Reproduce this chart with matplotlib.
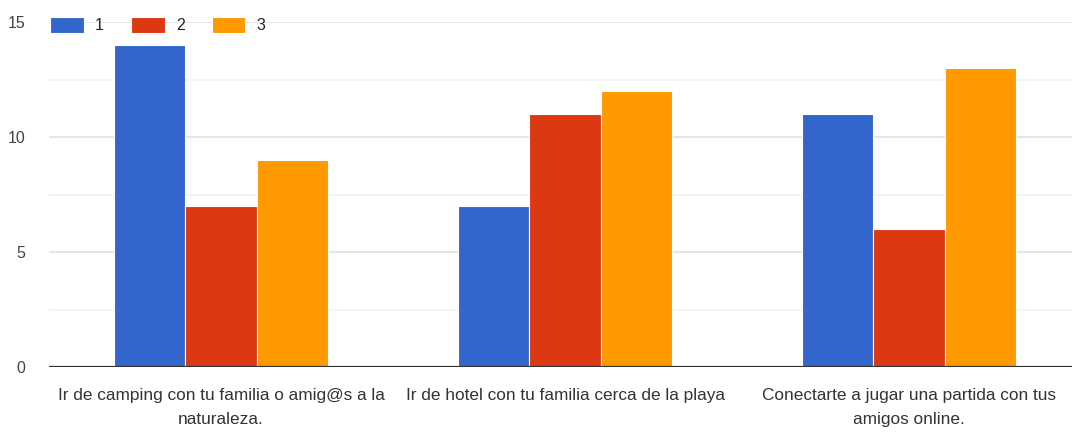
import matplotlib
import matplotlib.pyplot as plt
import numpy as np

matplotlib.use("Agg")

plt.rcParams["font.family"] = ["Liberation Sans Narrow", "Liberation Sans", "DejaVu Sans"]

categories = [
    "Ir de camping con tu familia o amig@s a la\nnaturaleza.",
    "Ir de hotel con tu familia cerca de la playa",
    "Conectarte a jugar una partida con tus\namigos online.",
]
series_names = ["1", "2", "3"]
series_values = [
    [14, 7, 11],
    [7, 11, 6],
    [9, 12, 13],
]
colors = ["#3366cc", "#dc3912", "#ff9900"]

fig = plt.figure(figsize=(10.72, 4.37), dpi=100)
ax = fig.add_axes([49 / 1072, 1 - 367 / 437, 1032 / 1072, (367 - 22) / 437])

x = np.arange(len(categories))
width = 0.207
handles = []
for i, (name, vals) in enumerate(zip(series_names, series_values)):
    b = ax.bar(x + (i - 1) * width, vals, width, color=colors[i],
               edgecolor="white", linewidth=0.8, label=name, zorder=3)
    handles.append(b)

ax.set_xlim(-0.5, 2.5)
ax.set_ylim(0, 15)
ax.set_yticks([0, 5, 10, 15])
ax.set_yticks([2.5, 7.5, 12.5], minor=True)
ax.grid(axis="y", which="major", color="#e2e2e2", linewidth=1.2, zorder=0)
ax.grid(axis="y", which="minor", color="#f1f1f1", linewidth=1.2, zorder=0)
ax.axhline(0, color="#333333", linewidth=1.6, zorder=4)

for s in ax.spines.values():
    s.set_visible(False)
ax.tick_params(axis="both", which="both", length=0)
ax.tick_params(axis="y", labelsize=11.5, labelcolor="#444444", pad=17)
ax.set_xticks(x)
ax.set_xticklabels(categories, fontsize=12.4, color="#333333", linespacing=1.75)
ax.tick_params(axis="x", pad=15)

fig.legend(handles=handles, labels=series_names, loc="center left",
           bbox_to_anchor=(36 / 1072, 1 - 25 / 437), ncol=3, frameon=False,
           fontsize=11.5, handlelength=2.1, handleheight=1.15,
           handletextpad=0.7, columnspacing=1.7, labelcolor="#222222")

fig.savefig("out.png", dpi=100)
